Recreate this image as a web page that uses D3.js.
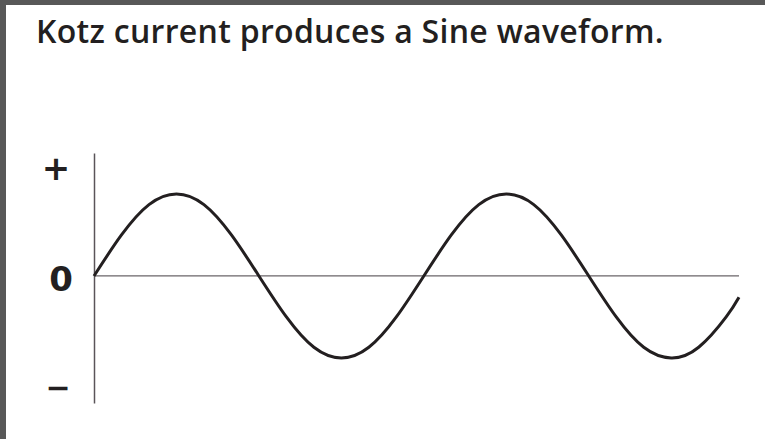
<!DOCTYPE html>
<html>
<head>
<meta charset="utf-8">
<script src="https://cdn.jsdelivr.net/npm/d3@7"></script>
<style>
  body { margin: 0; background: #fff; }
</style>
</head>
<body>
<div class="chartContainer"></div>
<script>
// phase in degrees, current (-1 .. 1)
var phase   = [0, 30, 60, 90, 120, 150, 180, 210, 240, 270, 300, 330, 360,
               390, 420, 450, 480, 510, 540, 570, 600, 630, 660, 690, 704];
var current = [0, 0.5, 0.87, 1, 0.87, 0.5, 0, -0.5, -0.87, -1, -0.87, -0.5, 0,
               0.5, 0.87, 1, 0.87, 0.5, 0, -0.5, -0.87, -1, -0.87, -0.5, -0.26];
var tickValues = [1.32, 0, -1.35];
var tickLabels = ["+", "0", "\u2212"];
var title = "Kotz current produces a Sine waveform.";

var width = 765, height = 439;

var canvas = d3.select(".chartContainer")
    .append("svg")
    .attr("width", width)
    .attr("height", height);

// dark frame on top and left
canvas.append("rect").attr("x", 0).attr("y", 0).attr("width", width).attr("height", 5).attr("fill", "#585858");
canvas.append("rect").attr("x", 0).attr("y", 0).attr("width", 6).attr("height", height).attr("fill", "#585858");

canvas.append("text")
    .attr("x", 36)
    .attr("y", 43)
    .attr("font-family", "Open Sans")
    .attr("font-weight", 600)
    .attr("font-size", 32)
    .attr("letter-spacing", 0.3)
    .attr("fill", "#231f20")
    .text(title);

var x = d3.scaleLinear().domain([0, 704]).range([94, 739]);
var y = d3.scaleLinear().domain([-1.55, 1.5]).range([403, 153]);

// zero line
canvas.append("line")
    .attr("x1", x(0)).attr("x2", x(704))
    .attr("y1", y(0)).attr("y2", y(0))
    .attr("stroke", "#6a6468")
    .attr("stroke-width", 1.2);

var axis = canvas.append("g")
    .attr("transform", "translate(" + x(0) + ",0)")
    .call(d3.axisLeft(y)
        .tickValues(tickValues)
        .tickFormat(function (d, i) { return tickLabels[i]; })
        .tickSize(0)
        .tickSizeOuter(0));

axis.select(".domain")
    .attr("stroke", "#5a5458")
    .attr("stroke-width", 1.5);

axis.selectAll(".tick text")
    .attr("x", function (d, i) { return [-38, -33, -36][i]; })
    .attr("dy", function (d, i) { return ["0.35em", "0.42em", "0.35em"][i]; })
    .attr("text-anchor", "middle")
    .attr("font-family", "DejaVu Sans")
    .attr("font-weight", "bold")
    .attr("font-size", function (d, i) { return [34, 34, 30][i]; })
    .attr("fill", "#231f20");

var line = d3.line()
    .x(function (d, i) { return x(phase[i]); })
    .y(function (d) { return y(d); })
    .curve(d3.curveNatural);

canvas.append("path")
    .datum(current)
    .attr("d", line)
    .attr("fill", "none")
    .attr("stroke", "#231f20")
    .attr("stroke-width", 3);
</script>
</body>
</html>
